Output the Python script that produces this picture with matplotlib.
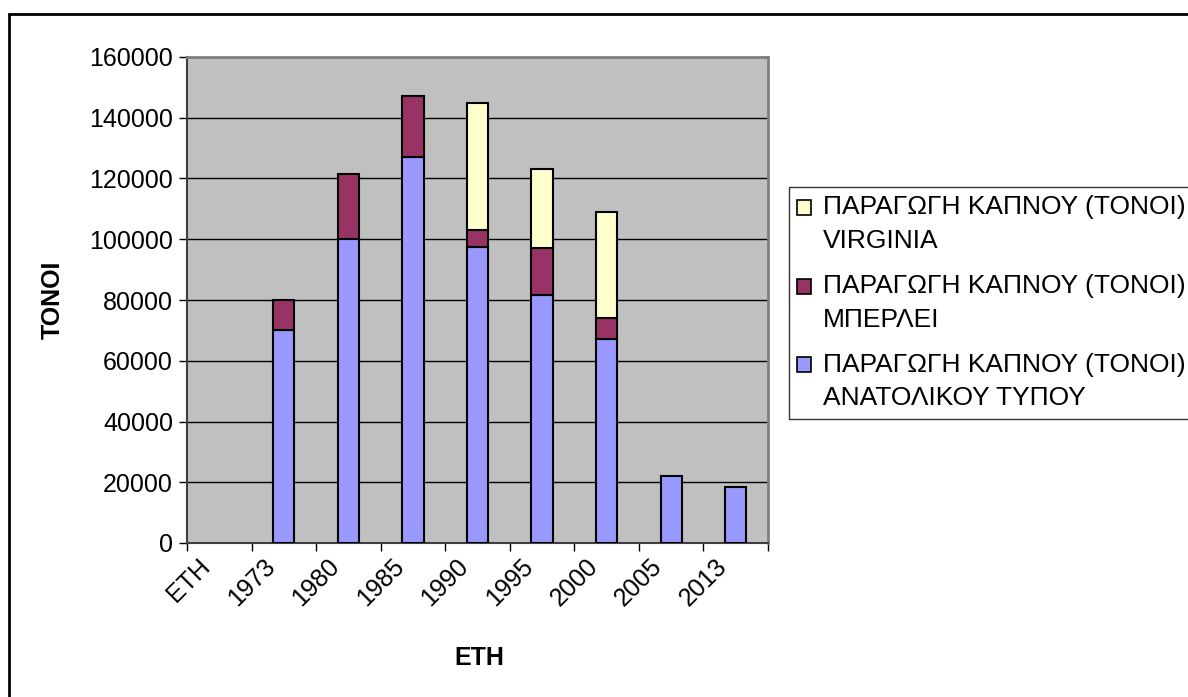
import matplotlib
matplotlib.use("Agg")
from matplotlib import pyplot as plt
from matplotlib.patches import Rectangle, Patch
from matplotlib.legend_handler import HandlerPatch
from matplotlib.transforms import ScaledTranslation
import numpy as np

plt.rcParams['font.family'] = ['Liberation Sans', 'DejaVu Sans']

# Δεδομένα παραγωγής καπνού (τόνοι)
eth = ["ΕΤΗ", "1973", "1980", "1985", "1990", "1995", "2000", "2005", "2013"]
anatolikou = [0, 70000, 100000, 127000, 97500, 81500, 67000, 22000, 18600]
mperlei = [0, 10000, 21600, 20000, 5500, 15500, 7000, 0, 0]
virginia = [0, 0, 0, 0, 42000, 26000, 35000, 0, 0]

lbl_anat = "ΠΑΡΑΓΩΓΗ ΚΑΠΝΟΥ (ΤΟΝΟΙ)\nΑΝΑΤΟΛΙΚΟΥ ΤΥΠΟΥ"
lbl_mper = "ΠΑΡΑΓΩΓΗ ΚΑΠΝΟΥ (ΤΟΝΟΙ)\nΜΠΕΡΛΕΙ"
lbl_virg = "ΠΑΡΑΓΩΓΗ ΚΑΠΝΟΥ (ΤΟΝΟΙ)\nVIRGINIA"

c_anat = "#9999FF"
c_mper = "#993366"
c_virg = "#FFFFCC"

fig = plt.figure(figsize=(11.88, 6.97), dpi=100)
ax = fig.add_axes([187/1188, 1 - 543/697, (768 - 187)/1188, (543 - 57)/697])
ax.set_facecolor("#C0C0C0")

x = np.arange(len(eth)) + 0.5
w = 0.33
anat = np.array(anatolikou)
mper = np.array(mperlei)
virg = np.array(virginia)

def bars(vals, bottom, color):
    m = vals > 0
    ax.bar(x[m], vals[m], w, bottom=bottom[m], color=color,
           edgecolor="black", linewidth=1.5, zorder=3)

bars(anat, np.zeros(len(eth)), c_anat)
bars(mper, anat, c_mper)
bars(virg, anat + mper, c_virg)

ax.set_xlim(0, len(eth))
ax.set_ylim(0, 160000)
ax.set_yticks(np.arange(0, 160001, 20000))
ax.yaxis.grid(True, color="black", linewidth=1, zorder=1)
ax.set_axisbelow(True)

ax.set_xticks(np.arange(0, len(eth) + 1))
ax.set_xticklabels([])
ax.set_xticks(x, minor=True)
ax.set_xticklabels(eth, minor=True, rotation=45, ha="right",
                   rotation_mode="anchor", fontsize=18)
ax.tick_params(axis="x", which="minor", length=0, pad=8)
ax.tick_params(axis="x", which="major", length=6, direction="out", width=1)
ax.tick_params(axis="y", length=6, direction="out", width=1, labelsize=18, pad=4)
off = ScaledTranslation(-21/100, 0, fig.dpi_scale_trans)
for t in ax.get_xticklabels(minor=True):
    t.set_transform(t.get_transform() + off)

for s in ["top", "right"]:
    ax.spines[s].set_color("#808080")
    ax.spines[s].set_linewidth(2)
for s in ["left", "bottom"]:
    ax.spines[s].set_color("#404040")
    ax.spines[s].set_linewidth(1.5)

fig.text(53/1188, 1 - 300/697, "ΤΟΝΟΙ", rotation=90, fontsize=18,
         fontweight="bold", ha="center", va="center")
fig.text(479/1188, 1 - 658/697, "ΕΤΗ", fontsize=18, fontweight="bold",
         ha="center", va="center")


# τετραγωνάκι υπομνήματος στο ύψος της πρώτης γραμμής
def square_top(legend, orig_handle, xdescent, ydescent, width, height, fontsize):
    return Rectangle((-xdescent, -ydescent + 12.0), width, height)


handles = [Patch(facecolor=c_virg, edgecolor="black", linewidth=1.2),
           Patch(facecolor=c_mper, edgecolor="black", linewidth=1.2),
           Patch(facecolor=c_anat, edgecolor="black", linewidth=1.2)]
leg = fig.legend(handles, [lbl_virg, lbl_mper, lbl_anat],
                 loc="upper left", bbox_to_anchor=(789/1188, 1 - 187/697),
                 fontsize=19, frameon=True, fancybox=False,
                 handlelength=0.5, handleheight=0.5, handletextpad=0.45,
                 labelspacing=0.8, borderpad=0.32, borderaxespad=0,
                 handler_map={Patch: HandlerPatch(patch_func=square_top)})
leg.get_frame().set_edgecolor("black")
leg.get_frame().set_linewidth(1)
for t in leg.get_texts():
    t.set_linespacing(1.5)

fig.patches.append(Rectangle((9/1188, -0.1), 1.2, 1 - 14/697 + 0.1,
                             transform=fig.transFigure, fill=False,
                             edgecolor="black", linewidth=2))

plt.savefig("out.png", dpi=100)
